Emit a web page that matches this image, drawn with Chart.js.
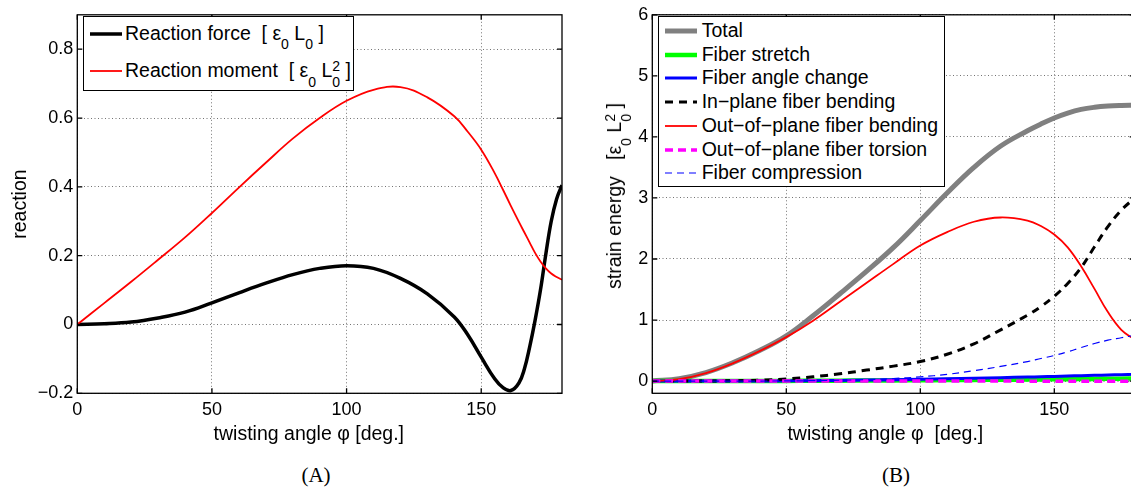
<!DOCTYPE html>
<html>
<head>
<meta charset="utf-8">
<script src="https://cdn.jsdelivr.net/npm/chart.js@4.4.1/dist/chart.umd.min.js"></script>
<style>
  html, body { margin: 0; padding: 0; background: #fff; overflow: hidden; }
  body { width: 1131px; height: 491px; position: relative; font-family: "Liberation Sans", Arial, Helvetica, sans-serif; color: #000; }
  canvas { position: absolute; top: 0; }
  .legend { position: absolute; box-sizing: border-box; border: 1.3px solid #000; background: #fff; }
  .legend .txt { position: absolute; white-space: pre; font-size: 19.5px; line-height: 22px; }
  .legend svg { position: absolute; overflow: visible; }
  .sb { font-size: 0.72em; position: relative; top: 0.7em; }
  .sp { font-size: 0.72em; position: relative; top: -0.45em; display: inline-block; width: 0; }
  .ytitle { position: absolute; white-space: pre; font-size: 19.5px; line-height: 22px; transform: translate(-50%, -50%) rotate(-90deg); }
  .panel { position: absolute; top: 463px; line-height: 24px; font-family: "Liberation Serif", "Times New Roman", serif; font-size: 21px; transform: translateX(-50%); }
</style>
</head>
<body>
<canvas id="chartA" width="575" height="450" style="left:0px"></canvas>
<canvas id="chartB" width="575" height="450" style="left:575px"></canvas>
<div id="legendA" class="legend" style="left:83px;top:16px;width:271px;height:75px"></div>
<div id="legendB" class="legend" style="left:657.7px;top:16px;width:287px;height:171px"></div>
<div class="ytitle" style="left:615px;top:196px">strain energy   [ε<span class="sb">0</span> L<span class="sp">2</span><span class="sb">0</span> ]</div>
<div class="panel" style="left:316px">(A)</div>
<div class="panel" style="left:896px">(B)</div>
<script>
// ---- data ----
const xTicks = [0, 50, 100, 150];
const xTickLabels = ['0', '50', '100', '150'];

// (A) reaction vs twisting angle
const angleA = [0, 10, 20, 30, 40, 50, 60, 70, 80, 90, 100, 110, 120, 130, 140, 145, 150, 155, 158, 161, 164, 166, 168, 170, 172, 174, 176, 178, 180];
const reactionForce = [0, 0.002, 0.007, 0.019, 0.036, 0.063, 0.092, 0.12, 0.145, 0.163, 0.171, 0.163, 0.134, 0.089, 0.022, -0.03, -0.095, -0.158, -0.183, -0.192, -0.17, -0.13, -0.065, 0.012, 0.10, 0.205, 0.30, 0.365, 0.405];
const reactionMoment = [0, 0.062, 0.124, 0.188, 0.253, 0.324, 0.398, 0.47, 0.54, 0.60, 0.65, 0.682, 0.69, 0.66, 0.605, 0.56, 0.508, 0.44, 0.393, 0.345, 0.298, 0.268, 0.238, 0.208, 0.183, 0.163, 0.148, 0.138, 0.13];
const yTicksA = [-0.2, 0, 0.2, 0.4, 0.6, 0.8];
const yTickLabelsA = ['\u22120.2', '0', '0.2', '0.4', '0.6', '0.8'];

// (B) strain energy components
const angleB = [0, 10, 20, 30, 40, 50, 60, 70, 80, 90, 100, 110, 120, 130, 140, 145, 150, 155, 160, 165, 170, 175, 180];
const total = [0, 0.04, 0.14, 0.30, 0.50, 0.74, 1.07, 1.43, 1.80, 2.19, 2.63, 3.08, 3.50, 3.85, 4.10, 4.21, 4.31, 4.39, 4.45, 4.485, 4.505, 4.515, 4.52];
const fiberStretch = [0, 0, 0.001, 0.001, 0.002, 0.003, 0.005, 0.007, 0.009, 0.011, 0.013, 0.016, 0.019, 0.022, 0.026, 0.028, 0.03, 0.032, 0.034, 0.036, 0.038, 0.04, 0.042];
const angleChange = [0, 0, 0, 0.001, 0.002, 0.004, 0.007, 0.011, 0.016, 0.022, 0.03, 0.038, 0.047, 0.056, 0.066, 0.071, 0.077, 0.083, 0.089, 0.095, 0.10, 0.105, 0.11];
const inPlaneBending = [0, 0, 0.002, 0.006, 0.015, 0.035, 0.07, 0.12, 0.18, 0.245, 0.32, 0.44, 0.61, 0.84, 1.08, 1.22, 1.39, 1.60, 1.86, 2.20, 2.53, 2.80, 3.0];
const outPlaneBending = [0, 0.03, 0.13, 0.29, 0.49, 0.72, 0.99, 1.30, 1.61, 1.92, 2.22, 2.44, 2.61, 2.68, 2.63, 2.54, 2.40, 2.19, 1.88, 1.51, 1.13, 0.84, 0.68];
const outPlaneTorsion = [0, 0, 0, 0, 0, 0, 0, 0, 0, 0, 0, 0, 0, 0, -0.001, -0.001, -0.002, -0.002, -0.003, -0.003, -0.004, -0.004, -0.005];
const fiberCompression = [0, 0, 0, 0, 0.001, 0.003, 0.007, 0.014, 0.025, 0.042, 0.07, 0.11, 0.17, 0.24, 0.32, 0.37, 0.42, 0.48, 0.55, 0.615, 0.67, 0.71, 0.75];
const yTicksB = [0, 1, 2, 3, 4, 5, 6];
const yTickLabelsB = ['0', '1', '2', '3', '4', '5', '6'];

const unit1 = ' [ ε<span class="sb">0</span> L<span class="sb">0</span> ]';
const unit2 = ' [ ε<span class="sb">0</span> L<span class="sp">2</span><span class="sb">0</span> ]';

const seriesA = [
  { label: 'Reaction force', unit: unit1, values: reactionForce, color: '#000000', width: 3.5, dash: [] },
  { label: 'Reaction moment', unit: unit2, values: reactionMoment, color: '#ff0000', width: 1.8, dash: [] }
];
const seriesB = [
  { label: 'Total', values: total, color: '#808080', width: 5, dash: [] },
  { label: 'Fiber stretch', values: fiberStretch, color: '#00ff00', width: 4.5, dash: [] },
  { label: 'Fiber angle change', values: angleChange, color: '#0000ff', width: 3, dash: [] },
  { label: 'In\u2212plane fiber bending', values: inPlaneBending, color: '#000000', width: 3, dash: [8, 6] },
  { label: 'Out\u2212of\u2212plane fiber bending', values: outPlaneBending, color: '#ff0000', width: 1.8, dash: [] },
  { label: 'Out\u2212of\u2212plane fiber torsion', values: outPlaneTorsion, color: '#ff00ff', width: 3.5, dash: [8, 5] },
  { label: 'Fiber compression', values: fiberCompression, color: '#0000ff', width: 1.2, dash: [7, 5] }
];

Chart.defaults.font.family = '"Liberation Sans", Arial, Helvetica, sans-serif';
Chart.defaults.color = '#000';

// MATLAB style box with inward ticks
const boxPlugin = {
  id: 'matlabBox',
  afterDatasetsDraw(chart) {
    const { ctx, chartArea: a, scales } = chart;
    ctx.save();
    ctx.strokeStyle = '#000';
    ctx.lineWidth = 1.3;
    ctx.setLineDash([]);
    ctx.strokeRect(a.left, a.top, a.right - a.left, a.bottom - a.top);
    ctx.beginPath();
    scales.x.ticks.forEach(t => {
      const px = scales.x.getPixelForValue(t.value);
      ctx.moveTo(px, a.bottom); ctx.lineTo(px, a.bottom - 5);
      ctx.moveTo(px, a.top); ctx.lineTo(px, a.top + 5);
    });
    scales.y.ticks.forEach(t => {
      const py = scales.y.getPixelForValue(t.value);
      ctx.moveTo(a.left, py); ctx.lineTo(a.left + 5, py);
      ctx.moveTo(a.right, py); ctx.lineTo(a.right - 5, py);
    });
    ctx.stroke();
    ctx.restore();
  }
};

function buildChart(id, xs, series, ax) {
  const gridColor = 'rgba(0,0,0,0.55)';
  return new Chart(document.getElementById(id), {
    type: 'line',
    data: {
      datasets: series.map((s, i) => ({
        label: s.label,
        data: xs.map((x, k) => ({ x: x, y: s.values[k] })),
        borderColor: s.color,
        borderWidth: s.width,
        borderDash: s.dash,
        pointRadius: 0,
        fill: false,
        tension: 0.4,
        order: series.length - i
      }))
    },
    options: {
      responsive: false,
      animation: false,
      events: [],
      layout: { padding: { left: 0, top: 10, right: ax.padRight, bottom: 0 } },
      plugins: { legend: { display: false }, tooltip: { enabled: false } },
      scales: {
        x: {
          type: 'linear', min: 0, max: 180, bounds: 'data',
          afterBuildTicks: s => { s.ticks = xTicks.map(v => ({ value: v })); },
          afterFit: s => { s.height = 56.7; },
          grid: { color: gridColor, lineWidth: 1, drawTicks: false },
          border: { display: false, dash: [1, 2.5] },
          ticks: { padding: 6, autoSkip: false, maxRotation: 0, font: { size: 18 }, color: '#000',
                   callback: v => xTickLabels[xTicks.indexOf(v)] },
          title: { display: true, text: ax.xTitle, font: { size: 19.5 }, color: '#000', padding: { top: 0, bottom: 3.3 } }
        },
        y: {
          type: 'linear', min: ax.yMin, max: ax.yMax, bounds: 'data',
          afterBuildTicks: s => { s.ticks = ax.yTicks.map(v => ({ value: v })); },
          afterFit: s => { s.width = 77.3; },
          grid: { color: gridColor, lineWidth: 1, drawTicks: false },
          border: { display: false, dash: [1, 2.5] },
          ticks: { padding: 4, autoSkip: false, font: { size: 18 }, color: '#000',
                   callback: v => ax.yLabels[ax.yTicks.indexOf(v)] },
          title: { display: !!ax.yTitle, text: ax.yTitle || '', font: { size: 19.5 }, color: '#000', padding: { top: 8.8, bottom: 0 } }
        }
      }
    },
    plugins: [boxPlugin]
  });
}

// trailing spaces nudge the centred titles left, as in the original
buildChart('chartA', angleA, seriesA, {
  padRight: 13, yMin: -0.2, yMax: 0.9, yTicks: yTicksA, yLabels: yTickLabelsA,
  xTitle: 'twisting angle \u03c6 [deg.]    ', yTitle: 'reaction'
});
buildChart('chartB', angleB, seriesB, {
  padRight: 15.3, yMin: -0.2, yMax: 6, yTicks: yTicksB, yLabels: yTickLabelsB,
  xTitle: 'twisting angle \u03c6  [deg.]   ', yTitle: null
});

// legends with sub/superscripts as real text
function buildLegend(id, series, lay) {
  const box = document.getElementById(id);
  series.forEach((s, i) => {
    const cy = lay.sampleY0 + lay.step * i;
    const svg = document.createElementNS('http://www.w3.org/2000/svg', 'svg');
    svg.setAttribute('width', lay.sampleW);
    svg.setAttribute('height', 10);
    svg.style.left = lay.sampleX + 'px';
    svg.style.top = (cy - 5) + 'px';
    const ln = document.createElementNS('http://www.w3.org/2000/svg', 'line');
    ln.setAttribute('x1', 0); ln.setAttribute('y1', 5);
    ln.setAttribute('x2', lay.sampleW); ln.setAttribute('y2', 5);
    ln.setAttribute('stroke', s.color);
    ln.setAttribute('stroke-width', s.width);
    if (s.dash.length) ln.setAttribute('stroke-dasharray', s.dash.join(' '));
    svg.appendChild(ln);
    box.appendChild(svg);
    const t = document.createElement('div');
    t.className = 'txt';
    t.style.left = lay.textX + 'px';
    t.style.top = (lay.textY0 + lay.step * i) + 'px';
    t.innerHTML = s.label + (s.unit ? ' ' + s.unit : '');
    box.appendChild(t);
  });
}
buildLegend('legendA', seriesA, { sampleX: 6, sampleW: 32, sampleY0: 16.5, textX: 41, textY0: 4.5, step: 37.4 });
buildLegend('legendB', seriesB, { sampleX: 6, sampleW: 32, sampleY0: 14, textX: 43, textY0: 2, step: 23.7 });
</script>
</body>
</html>
